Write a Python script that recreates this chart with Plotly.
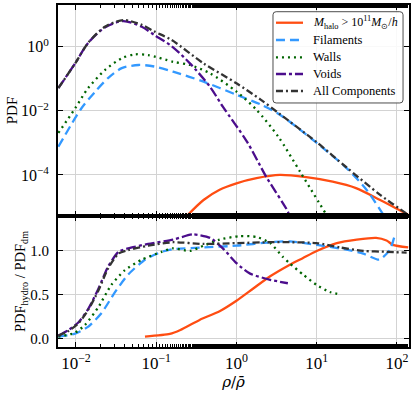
import plotly.graph_objects as go
from plotly.subplots import make_subplots

# ---- top panel: PDF of rho/rho_bar ----
all_x = [0.00603, 0.00977, 0.0141, 0.0229, 0.0389, 0.0661, 0.0955, 0.155, 0.389,
         1.0, 2.0, 3.47, 10, 23.4, 61.7, 138]
all_y = [0.0513, 0.302, 1.29, 4.17, 6.76, 4.79, 2.95, 1.62, 0.302,
         0.0724, 0.0224, 0.00794, 0.00105, 1.74e-4, 2.40e-5, 5.75e-6]

void_x = [0.00603, 0.00977, 0.0141, 0.0229, 0.0389, 0.0661, 0.0955, 0.155, 0.263,
          0.468, 0.676, 1.35, 2.34, 4.37, 4.57]
void_y = [0.0513, 0.302, 1.29, 3.98, 6.31, 4.17, 2.29, 1.05, 0.302,
          0.0562, 0.0135, 0.0011, 8.9e-5, 7.2e-6, 5.0e-6]

wall_x = [0.00603, 0.00977, 0.0141, 0.0229, 0.0372, 0.0537, 0.0794, 0.162, 0.263,
          0.468, 1.0, 1.78, 3.31, 6.17, 13.2]
wall_y = [0.00204, 0.0120, 0.0501, 0.186, 0.437, 0.575, 0.550, 0.339, 0.269,
          0.148, 0.0398, 0.0107, 0.00158, 1.29e-4, 5.75e-6]

fil_x = [0.00603, 0.0117, 0.0174, 0.0251, 0.0372, 0.0603, 0.0955, 0.162, 0.389,
         1.0, 2.0, 3.47, 10, 23.4, 41.7, 67.6]
fil_y = [7.59e-4, 0.0120, 0.0398, 0.105, 0.214, 0.269, 0.240, 0.166, 0.0813,
         0.0316, 0.0158, 0.00759, 0.001, 1.66e-4, 3.47e-5, 5.75e-6]

halo_x = [0.240, 0.389, 0.617, 1.0, 1.78, 3.47, 7.41, 15.8, 30.9, 61.7, 138]
halo_y = [5.25e-6, 1.66e-5, 3.47e-5, 5.50e-5, 7.94e-5, 1.0e-4, 8.51e-5, 6.17e-5,
          3.89e-5, 1.66e-5, 5.75e-6]

# ---- bottom panel: PDF_hydro / PDF_dm ----
all_rx = [0.00603, 0.00794, 0.0107, 0.0141, 0.0191, 0.0251, 0.0339, 0.0447, 0.0794,
          0.162, 0.389, 1.0, 2.63, 4.57, 10, 19.5, 38.0, 74.1, 132]
all_r = [0.03, 0.08, 0.17, 0.32, 0.55, 0.80, 0.97, 1.01, 1.06,
         1.10, 1.08, 1.09, 1.10, 1.10, 1.09, 1.04, 1.00, 0.99, 0.98]

void_rx = [0.00603, 0.00794, 0.0107, 0.0141, 0.0191, 0.0251, 0.0339, 0.0447, 0.0794,
           0.162, 0.288, 0.468, 0.676, 1.0, 1.48, 2.63, 4.37]
void_r = [0.03, 0.09, 0.18, 0.33, 0.57, 0.82, 0.99, 1.03, 1.08,
          1.13, 1.19, 1.15, 1.03, 0.86, 0.74, 0.67, 0.63]

fil_rx = [0.00603, 0.00955, 0.0141, 0.0209, 0.0302, 0.0447, 0.0724, 0.117, 0.162,
          0.389, 1.0, 2.63, 4.57, 10, 21.9, 38.0, 60.3, 81.3, 93.3]
fil_r = [0.02, 0.05, 0.13, 0.29, 0.52, 0.73, 0.90, 0.99, 1.02,
         1.04, 1.06, 1.10, 1.11, 1.07, 1.02, 0.97, 0.90, 1.01, 1.17]

wall_rx = [0.00603, 0.00955, 0.0129, 0.0191, 0.0275, 0.0407, 0.0661, 0.117, 0.162,
           0.263, 0.389, 0.617, 1.10, 1.78, 2.63, 3.80, 4.57, 6.76, 10, 14.5, 20.0]
wall_r = [0.02, 0.06, 0.15, 0.36, 0.61, 0.78, 0.90, 0.99, 1.03,
          1.00, 1.06, 1.13, 1.17, 1.16, 1.09, 0.93, 0.86, 0.73, 0.61, 0.53, 0.50]

halo_rx = [0.0724, 0.148, 0.200, 0.347, 0.617, 1.0, 1.62, 2.63, 4.57, 6.76, 10,
           17.8, 31.6, 55.0, 74.1, 89.1, 138]
halo_r = [0.02, 0.05, 0.095, 0.21, 0.31, 0.43, 0.57, 0.71, 0.84, 0.92, 1.0,
          1.09, 1.13, 1.15, 1.12, 1.07, 1.04]

x_ticks = [0.01, 0.1, 1, 10, 100]
x_labels = ["10<sup>\u22122</sup>", "10<sup>\u22121</sup>", "10<sup>0</sup>",
            "10<sup>1</sup>", "10<sup>2</sup>"]
pdf_ticks = [1e-4, 1e-2, 1]
pdf_labels = ["10<sup>\u22124</sup>", "10<sup>\u22122</sup>", "10<sup>0</sup>"]
ratio_ticks = [0.0, 0.5, 1.0]
ratio_labels = ["0.0", "0.5", "1.0"]

FONT = "Liberation Serif"
ORDER = ["halo", "fil", "wall", "void", "all"]

styles = {
    "halo": dict(color="#ff4d12", width=2.3),
    "fil": dict(color="#3399ff", width=2.3, dash="9px,5px"),
    "wall": dict(color="#006400", width=2.3, dash="2px,4px"),
    "void": dict(color="#4b0d8c", width=2.3, dash="10px,3px,3px,3px"),
    "all": dict(color="#333333", width=2.3, dash="7px,3px,2px,3px"),
}
names = {
    "halo": "<i>M</i><sub>halo</sub> > 10<sup>11</sup><i>M</i><sub>\u2299</sub>/<i>h</i>",
    "fil": "Filaments",
    "wall": "Walls",
    "void": "Voids",
    "all": "All Components",
}

fig = make_subplots(rows=2, cols=1, shared_xaxes=True, vertical_spacing=0,
                    row_heights=[0.617, 0.383])

top = {"halo": (halo_x, halo_y), "fil": (fil_x, fil_y), "wall": (wall_x, wall_y),
       "void": (void_x, void_y), "all": (all_x, all_y)}
bottom = {"halo": (halo_rx, halo_r), "fil": (fil_rx, fil_r), "wall": (wall_rx, wall_r),
          "void": (void_rx, void_r), "all": (all_rx, all_r)}

for key in ORDER:
    x, y = top[key]
    fig.add_trace(go.Scatter(x=x, y=y, mode="lines", name=names[key], showlegend=False,
                             line=dict(shape="spline", smoothing=0.8, **styles[key])),
                  row=1, col=1)
for key in ORDER:
    x, y = bottom[key]
    fig.add_trace(go.Scatter(x=x, y=y, mode="lines", showlegend=False,
                             line=dict(shape="spline", smoothing=0.6, **styles[key])),
                  row=2, col=1)

axis_common = dict(showline=True, linewidth=2, linecolor="black", mirror="allticks",
                   ticks="inside", ticklen=5, tickwidth=1, tickcolor="black",
                   showgrid=True, gridcolor="#d3d3d3", gridwidth=1, zeroline=False,
                   automargin=False)

fig.update_xaxes(type="log", range=[-2.224, 2.15], tickvals=x_ticks, ticktext=x_labels,
                 tickfont=dict(family=FONT, size=17, color="black"),
                 minor=dict(ticks="inside", ticklen=3, tickcolor="black", showgrid=False),
                 **axis_common)
fig.update_xaxes(showticklabels=False, row=1, col=1)
fig.update_xaxes(title=dict(text="<i>\u03c1</i>/<i>\u03c1\u0304</i>", standoff=2,
                            font=dict(family="DejaVu Serif", size=15, color="black")),
                 row=2, col=1)

fig.update_yaxes(type="log", range=[-5.28, 1.30], tickvals=pdf_ticks, ticktext=pdf_labels,
                 tickfont=dict(family=FONT, size=16, color="black"),
                 title=dict(text="PDF", standoff=0, font=dict(family=FONT, size=15, color="black")),
                 ticklabelstandoff=4, row=1, col=1, **axis_common)
fig.update_yaxes(range=[-0.1, 1.4], tickvals=ratio_ticks, ticktext=ratio_labels,
                 tickfont=dict(family=FONT, size=15, color="black"),
                 title=dict(text="PDF<sub>hydro</sub> / PDF<sub>dm</sub>", standoff=0,
                            font=dict(family=FONT, size=14.5, color="black")),
                 ticklabelstandoff=4, row=2, col=1, **axis_common)

# legend box drawn in paper coordinates (rounded frame like the original)
bx0, bx1, by0, by1 = 0.6125, 0.983, 0.7135, 0.9804
rx, ry = 0.009, 0.009
frame = (f"M {bx0 + rx},{by1} L {bx1 - rx},{by1} Q {bx1},{by1} {bx1},{by1 - ry} "
         f"L {bx1},{by0 + ry} Q {bx1},{by0} {bx1 - rx},{by0} L {bx0 + rx},{by0} "
         f"Q {bx0},{by0} {bx0},{by0 + ry} L {bx0},{by1 - ry} Q {bx0},{by1} {bx0 + rx},{by1} Z")
shapes = [dict(type="path", path=frame, xref="paper", yref="paper",
               fillcolor="rgba(255,255,255,0.85)", line=dict(color="#4d4d4d", width=1),
               layer="above")]
annotations = []
entry_y = [0.9482, 0.8977, 0.8471, 0.7982, 0.7485]
for key, ey in zip(ORDER, entry_y):
    shapes.append(dict(type="line", xref="paper", yref="paper", x0=0.621, x1=0.698,
                       y0=ey, y1=ey, line=styles[key], layer="above"))
    annotations.append(dict(text=names[key], xref="paper", yref="paper", x=0.72, y=ey,
                            xanchor="left", yanchor="middle", showarrow=False,
                            font=dict(family=FONT, size=12 if key == "halo" else 12.5,
                                      color="black")))

fig.update_layout(
    width=415, height=393,
    margin=dict(l=58, r=6, t=5, b=46),
    paper_bgcolor="white", plot_bgcolor="white",
    font=dict(family=FONT, size=13, color="black"),
    showlegend=False,
    shapes=shapes,
    annotations=annotations,
)

# the page body has a default 8px margin; drop it so the figure sits at the corner
fig.write_html("out.html", config={"displayModeBar": False},
               post_script="document.body.style.margin='0';")
